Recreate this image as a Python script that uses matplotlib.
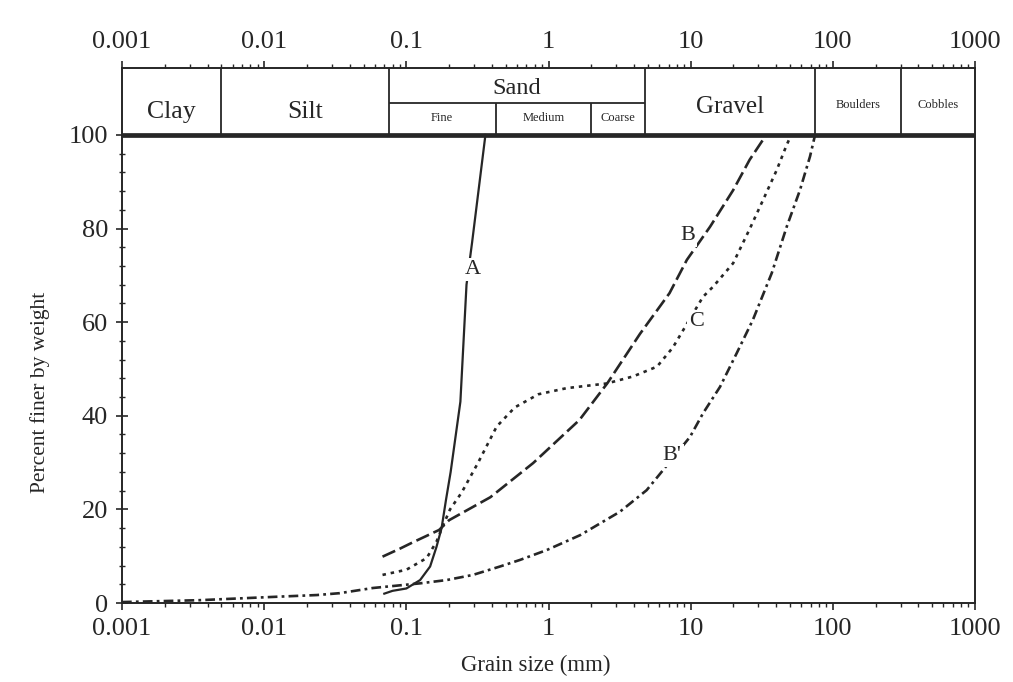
import numpy as np
import matplotlib
matplotlib.use("Agg")
import matplotlib.pyplot as plt
from matplotlib.ticker import FixedLocator, LogLocator, FuncFormatter, NullFormatter

plt.rcParams['font.family'] = ['Liberation Serif', 'DejaVu Serif']
plt.rcParams['lines.scale_dashes'] = False

# Curve A (uniform fine sand)
a_size = [0.07, 0.08, 0.1, 0.125, 0.147, 0.163, 0.177, 0.19, 0.205, 0.24, 0.265, 0.29, 0.36]
a_finer = [2.0, 2.6, 3.1, 4.9, 7.8, 12.0, 16.0, 22.0, 28.0, 43.0, 68.0, 77.0, 100.0]

# Curve B (well graded)
b_size = [0.068, 0.09, 0.11, 0.17, 0.2, 0.27, 0.39, 0.78, 1.65, 2.6, 4.4, 7.1, 9.4, 13.7, 19.9, 26.0, 34.0]
b_finer = [9.9, 11.6, 12.9, 15.6, 17.7, 19.9, 22.6, 29.9, 39.1, 47.0, 57.5, 66.2, 73.3, 80.4, 88.2, 94.7, 100.0]

# Curve C (gap graded)
c_size = [0.068, 0.1, 0.139, 0.163, 0.178, 0.203, 0.245, 0.32, 0.432, 0.58, 0.85, 1.34, 2.57, 3.93, 5.8,
          7.5, 12.2, 14.4, 19.9, 26.1, 32.3, 40.3, 47.4, 51.0]
c_finer = [6.0, 7.1, 9.6, 13.1, 16.0, 20.0, 23.6, 30.0, 37.7, 41.8, 44.6, 45.9, 46.9, 48.4, 50.5,
           54.6, 65.4, 67.6, 72.6, 80.0, 86.1, 92.5, 97.9, 100.0]

# Curve B'
bp_size = [0.001, 0.0035, 0.0115, 0.0235, 0.034, 0.058, 0.125, 0.192, 0.294, 0.456, 0.63, 0.97, 1.67,
           3.18, 4.9, 6.4, 9.9, 12.2, 16.1, 21.1, 27.4, 37.2, 47.4, 58.7, 69.1, 75.0]
bp_finer = [0.2, 0.6, 1.3, 1.7, 2.1, 3.2, 4.2, 4.9, 6.0, 7.8, 9.2, 11.3, 14.5,
            19.5, 24.1, 28.4, 35.5, 40.5, 46.2, 53.4, 60.5, 70.5, 80.4, 88.2, 95.4, 100.0]

# Soil classification band above the chart
band_edges = [0.001, 0.005, 0.075, 4.75, 75, 300, 1000]
band_names = ['Clay', 'Silt', 'Sand', 'Gravel', 'Boulders', 'Cobbles']
sand_edges = [0.075, 0.425, 2.0, 4.75]
sand_names = ['Fine', 'Medium', 'Coarse']

x_ticks = [0.001, 0.01, 0.1, 1, 10, 100, 1000]
y_ticks = [0, 20, 40, 60, 80, 100]

ink = '#262626'
y_top = 114.3
y_sub = 106.8

fig = plt.figure(figsize=(10.13, 6.82), dpi=100)
ax = fig.add_axes([122 / 1013, 1 - 603 / 682, 853 / 1013, 535 / 682])

ax.set_xscale('log')
ax.set_xlim(0.001, 1000)
ax.set_ylim(0, y_top)

# curves
ax.plot(a_size, a_finer, color=ink, lw=1.6, ls='-')
ax.plot(b_size, b_finer, color=ink, lw=1.9, ls=(0, (10, 3.5)))
ax.plot(c_size, c_finer, color=ink, lw=1.9, ls=(0, (2.5, 3.5)))
ax.plot(bp_size, bp_finer, color=ink, lw=1.9, ls=(0, (7, 3, 2, 3)))

label_box = dict(facecolor='white', edgecolor='none', pad=1.5)
ax.text(0.294, 71.3, 'A', fontsize=16, color=ink, ha='center', va='center', bbox=label_box)
ax.text(9.5, 78.6, 'B', fontsize=16, color=ink, ha='center', va='center', bbox=label_box)
ax.text(11.0, 60.2, 'C', fontsize=16, color=ink, ha='center', va='center', bbox=label_box)
ax.text(7.4, 31.5, "B'", fontsize=16, color=ink, ha='center', va='center', bbox=label_box)

# header table
ax.axhline(100, color=ink, lw=3.4)
ax.vlines(band_edges[1:-1], 100, y_top, color=ink, lw=1.3)
ax.hlines(y_sub, sand_edges[0], sand_edges[-1], color=ink, lw=1.3)
ax.vlines(sand_edges[1:-1], 100, y_sub, color=ink, lw=1.3)

band_y = [105.0, 105.0, 110.0, 106.0, 106.4, 106.4]
band_fs = [18.5, 18.5, 17.5, 18, 9, 9]
for lo, hi, name, yy, fs in zip(band_edges[:-1], band_edges[1:], band_names, band_y, band_fs):
    ax.text(np.sqrt(lo * hi), yy, name, fontsize=fs, color=ink, ha='center', va='center')
for lo, hi, name in zip(sand_edges[:-1], sand_edges[1:], sand_names):
    ax.text(np.sqrt(lo * hi), 103.7, name, fontsize=9, color=ink, ha='center', va='center')

# axes styling
for s in ax.spines.values():
    s.set_color(ink)
    s.set_linewidth(1.4)

ax.xaxis.set_major_locator(FixedLocator(x_ticks))
ax.xaxis.set_minor_locator(LogLocator(base=10, subs=np.arange(2, 10)))
ax.xaxis.set_major_formatter(FuncFormatter(lambda v, p: '{:g}'.format(v)))
ax.xaxis.set_minor_formatter(NullFormatter())
ax.tick_params(axis='x', which='both', top=True, labeltop=True, bottom=True, labelbottom=True,
               direction='out', colors=ink, labelsize=19)
ax.tick_params(axis='x', which='major', length=5, width=1.2, pad=6)
ax.tick_params(axis='x', which='minor', length=3, width=1.0)

ax.yaxis.set_major_locator(FixedLocator(y_ticks))
ax.yaxis.set_minor_locator(FixedLocator(np.arange(0, 101, 4)))
ax.tick_params(axis='y', which='both', left=True, right=False, direction='inout', colors=ink,
               labelsize=19)
ax.tick_params(axis='y', which='major', length=8, width=1.2, pad=6)
ax.tick_params(axis='y', which='minor', length=5, width=1.0)

fig.text(536 / 1013, 1 - 665 / 682, 'Grain size (mm)', fontsize=16.5, color=ink, ha='center', va='center')
fig.text(40 / 1013, 1 - 392 / 682, 'Percent finer by weight', fontsize=15.5, color=ink,
         ha='center', va='center', rotation=90)

fig.savefig('out.png', dpi=100)
